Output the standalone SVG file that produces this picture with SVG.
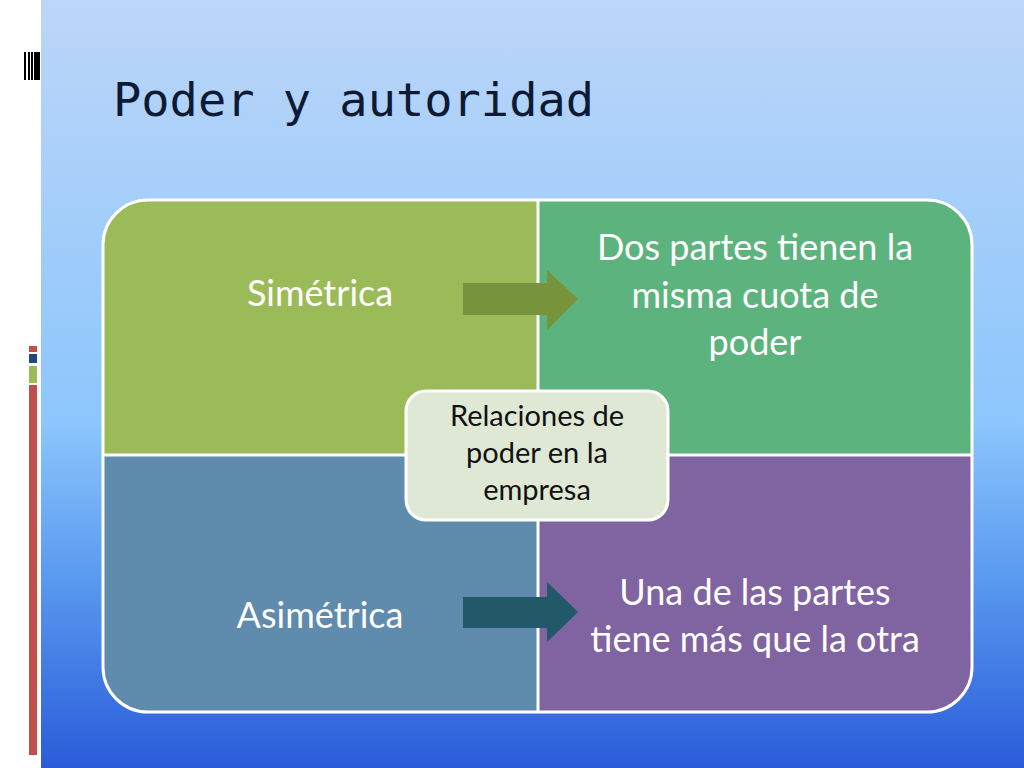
<svg xmlns="http://www.w3.org/2000/svg" width="1024" height="768" viewBox="0 0 1024 768">
<defs>
<linearGradient id="bg" x1="0" y1="0" x2="0" y2="1">
<stop offset="0" stop-color="#bcd6f8"/>
<stop offset="0.55" stop-color="#8cc6fc"/>
<stop offset="0.75" stop-color="#5a9af0"/>
<stop offset="1" stop-color="#2a5cd8"/>
</linearGradient>
<clipPath id="grid"><rect x="103" y="200" width="869" height="512" rx="45"/></clipPath>
</defs>
<style>
.t{font-family:Lato,"Open Sans",sans-serif;fill:#fff;font-size:36px;text-anchor:middle}
.c{font-family:Lato,"Open Sans",sans-serif;fill:#111;font-size:29px;text-anchor:middle}
</style>
<rect width="1024" height="768" fill="url(#bg)"/>
<rect width="41" height="768" fill="#fff"/>
<g fill="#000"><rect x="24" y="52" width="2" height="28"/><rect x="28" y="52" width="2" height="28"/><rect x="31" y="52" width="2" height="28"/><rect x="34" y="52" width="6" height="28"/></g>
<rect x="29" y="346" width="8" height="6" fill="#c0504d"/>
<rect x="29" y="354" width="8" height="9" fill="#1f497d"/>
<rect x="29" y="366" width="8" height="17" fill="#9bbb59"/>
<rect x="29" y="385" width="8" height="370" fill="#c0504d"/>
<text x="113" y="116" font-family="DejaVu Sans Mono,monospace" font-size="47" fill="#0c1a33">Poder y autoridad</text>
<g clip-path="url(#grid)">
<g id="simetrica"><rect x="103" y="200" width="435" height="255" fill="#9bbb59"/><text class="t" x="320" y="306">Simétrica</text></g>
<g id="dos"><rect x="538" y="200" width="434" height="255" fill="#5db37e"/><text class="t" x="755" y="260">Dos partes tienen la</text><text class="t" x="755" y="308">misma cuota de</text><text class="t" x="755" y="355">poder</text></g>
<g id="asimetrica"><rect x="103" y="455" width="435" height="257" fill="#5f8bac"/><text class="t" x="320" y="628">Asimétrica</text></g>
<g id="una"><rect x="538" y="455" width="434" height="257" fill="#8064a2"/><text class="t" x="755" y="605">Una de las partes</text><text class="t" x="755" y="652">tiene más que la otra</text></g>
</g>
<g stroke="#fff" stroke-width="3" fill="none"><rect x="103" y="200" width="869" height="512" rx="45"/><line x1="538" y1="200" x2="538" y2="712"/><line x1="103" y1="455" x2="972" y2="455"/></g>
<g id="connectors">
<polygon points="463,283 547,283 547,270 578,299 547,330 547,315 463,315" fill="#77933c"/>
<polygon points="463,597 547,597 547,582 578,612 547,642 547,628 463,628" fill="#215968"/>
</g>
<g id="center"><rect x="406" y="391" width="262" height="129" rx="20" fill="#dfe8d5" stroke="#fff" stroke-width="3"/>
<text class="c" x="537" y="426">Relaciones de</text><text class="c" x="537" y="463">poder en la</text><text class="c" x="537" y="500">empresa</text></g>
</svg>
